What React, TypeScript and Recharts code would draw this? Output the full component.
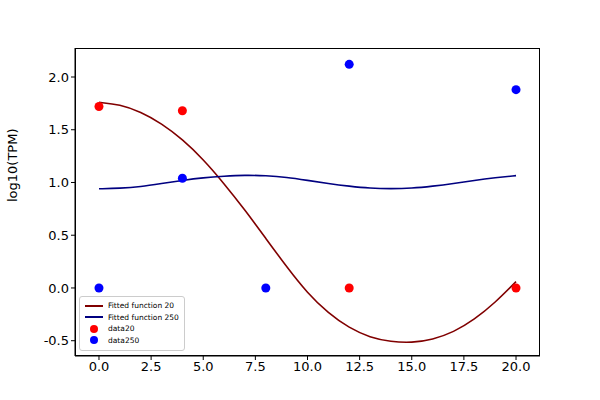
import { ComposedChart, Line, Scatter, XAxis, YAxis, Label } from 'recharts';

const fitX = [0, 1, 2, 3, 4, 5, 6, 7, 8, 9, 10, 11, 12, 13, 14, 15, 16, 17, 18, 19, 20];
const fit20 = [1.76, 1.74, 1.67, 1.56, 1.41, 1.22, 0.99, 0.74, 0.47, 0.2, -0.05, -0.24, -0.38, -0.47, -0.51, -0.52, -0.49, -0.42, -0.3, -0.14, 0.06];
const fit250 = [0.94, 0.945, 0.96, 0.99, 1.02, 1.045, 1.06, 1.07, 1.065, 1.05, 1.02, 0.99, 0.965, 0.945, 0.94, 0.945, 0.965, 0.99, 1.02, 1.045, 1.065];
const dataX = [0, 4, 8, 12, 20];
const data20 = [1.72, 1.68, null, 0, 0];
const data250 = [0, 1.04, 0, 2.12, 1.88];
const xTicks = [0, 2.5, 5, 7.5, 10, 12.5, 15, 17.5, 20];
const yTicks = [-0.5, 0, 0.5, 1, 1.5, 2];

const line20 = fitX.map((x, i) => ({ x, y: fit20[i] }));
const line250 = fitX.map((x, i) => ({ x, y: fit250[i] }));
const pts20 = dataX.map((x, i) => ({ x, y: data20[i] })).filter((p) => p.y !== null);
const pts250 = dataX.map((x, i) => ({ x, y: data250[i] }));

const tick = { fill: '#000', fontSize: 13 };
const axisLine = { stroke: '#000' };
const tickLine = { stroke: '#000' };

export default function App() {
  return (
    <div style={{ position: 'absolute', left: 0, top: 0, width: 600, height: 400, background: '#fff', fontFamily: 'DejaVu Sans' }}>
      <ComposedChart width={600} height={400} margin={{ top: 48, right: 60, bottom: 0, left: 0 }}>
        <XAxis type="number" dataKey="x" domain={[-1.15, 21.15]} ticks={xTicks} tickFormatter={(v) => v.toFixed(1)}
          tick={tick} axisLine={axisLine} tickLine={tickLine} height={44} tickSize={4} allowDataOverflow />
        <YAxis type="number" domain={[-0.645, 2.275]} ticks={yTicks} tickFormatter={(v) => v.toFixed(1)}
          tick={tick} axisLine={axisLine} tickLine={tickLine} width={75} tickSize={4} allowDataOverflow>
          <Label value="log10(TPM)" angle={-90} position="insideLeft" offset={12} style={{ fill: '#000', fontSize: 13 }} />
        </YAxis>
        <Line data={line20} dataKey="y" type="basis" stroke="#800000" strokeWidth={1.6} dot={false} isAnimationActive={false} />
        <Line data={line250} dataKey="y" type="basis" stroke="#000080" strokeWidth={1.6} dot={false} isAnimationActive={false} />
        <Scatter data={pts20} dataKey="y" fill="#ff0000" isAnimationActive={false}
          shape={(p: any) => <circle cx={p.cx} cy={p.cy} r={4.5} fill="#ff0000" />} />
        <Scatter data={pts250} dataKey="y" fill="#0000ff" isAnimationActive={false}
          shape={(p: any) => <circle cx={p.cx} cy={p.cy} r={4.5} fill="#0000ff" />} />
      </ComposedChart>
      <div style={{ position: 'absolute', left: 75, top: 48, width: 465, height: 308, border: '1px solid #000', boxSizing: 'border-box', pointerEvents: 'none' }} />
      <div style={{ position: 'absolute', left: 79, top: 296, width: 106, height: 55, border: '1px solid #ccc', borderRadius: 3, background: 'rgba(255,255,255,0.8)', fontSize: 7.5, lineHeight: '11.5px', padding: '3px 4px', boxSizing: 'border-box', whiteSpace: 'nowrap' }}>
        {[
          ['line', '#800000', 'Fitted function 20'],
          ['line', '#000080', 'Fitted function 250'],
          ['dot', '#ff0000', 'data20'],
          ['dot', '#0000ff', 'data250'],
        ].map(([k, c, t]) => (
          <div key={t} style={{ display: 'flex', alignItems: 'center' }}>
            <span style={{ width: 20, display: 'inline-flex', justifyContent: 'center', marginRight: 4 }}>
              {k === 'line'
                ? <span style={{ width: 18, height: 2, background: c }} />
                : <span style={{ width: 8, height: 8, borderRadius: 4, background: c }} />}
            </span>
            {t}
          </div>
        ))}
      </div>
    </div>
  );
}
